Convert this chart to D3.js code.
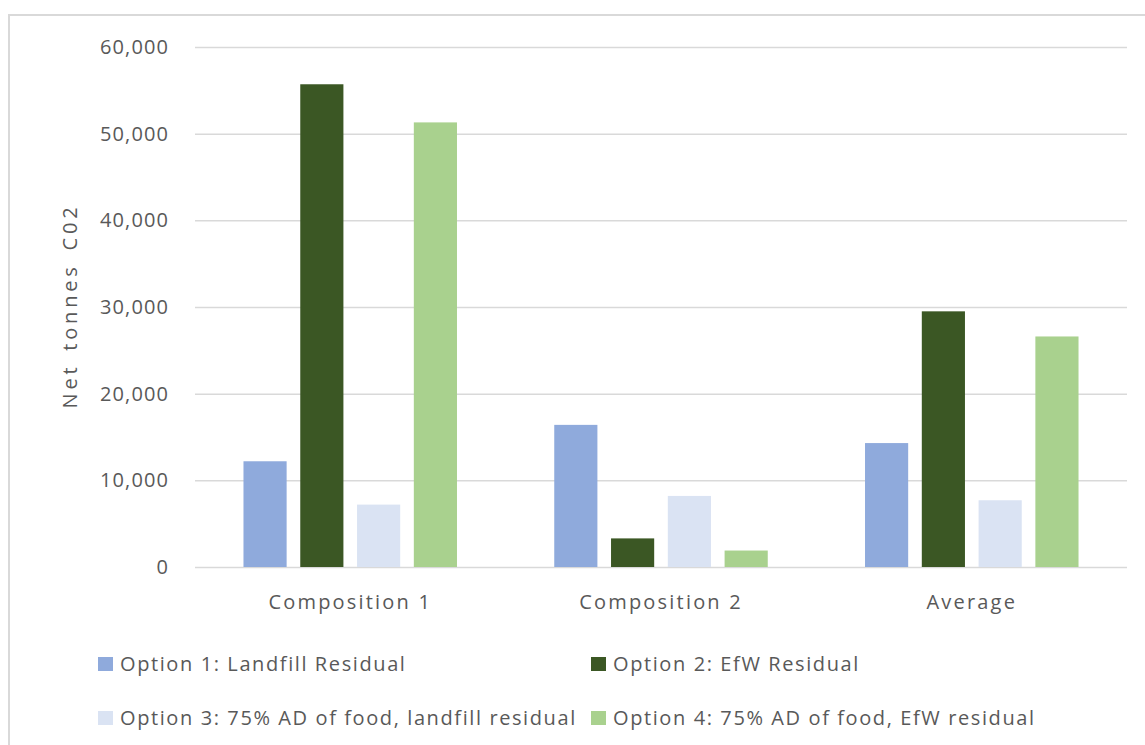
<!DOCTYPE html>
<html>
<head>
<meta charset="utf-8">
<script src="https://cdn.jsdelivr.net/npm/d3@7"></script>
<style>
  body { margin: 0; background: #fff; }
  svg text { font-family: "Open Sans", sans-serif; fill: #595959; }
</style>
</head>
<body>
<div id="chart"></div>
<script>
// categories and series
const categories = ["Composition 1", "Composition 2", "Average"];
const seriesNames = [
  "Option 1: Landfill Residual",
  "Option 2: EfW Residual",
  "Option 3: 75% AD of food, landfill residual",
  "Option 4: 75% AD of food, EfW residual"
];
const option1 = [12200, 16400, 14300];
const option2 = [55700, 3300, 29500];
const option3 = [7200, 8200, 7700];
const option4 = [51300, 1900, 26600];
const yTicks = [0, 10000, 20000, 30000, 40000, 50000, 60000];
const colors = ["#8faadc", "#3b5724", "#dae3f3", "#a9d18e"];

const seriesValues = [option1, option2, option3, option4];

const W = 1145, H = 745;
const margin = {top: 47, right: 18, bottom: 178, left: 195};
const width = W - margin.left - margin.right;
const height = H - margin.top - margin.bottom;

const svg = d3.select("#chart").append("svg")
  .attr("width", W).attr("height", H);

// outer chart border (only top and left are visible in the crop)
svg.append("rect")
  .attr("x", 9).attr("y", 15)
  .attr("width", W + 20).attr("height", H + 20)
  .attr("fill", "none").attr("stroke", "#d9d9d9").attr("stroke-width", 2);

const g = svg.append("g")
  .attr("transform", "translate(" + margin.left + "," + margin.top + ")");

const x0 = d3.scaleBand().domain(categories).range([0, width]).paddingInner(0.313).paddingOuter(0.156);
const x1 = d3.scaleBand().domain(d3.range(4)).range([0, x0.bandwidth()]).paddingInner(0.24);
const y = d3.scaleLinear().domain([0, 60000]).range([height, 0]);

// gridlines
g.append("g")
  .selectAll("line")
  .data(yTicks)
  .enter().append("line")
  .attr("x1", 0).attr("x2", width)
  .attr("y1", d => y(d) + 0.5).attr("y2", d => y(d) + 0.5)
  .attr("stroke", "#d9d9d9").attr("stroke-width", 1.5);

// y axis labels
const yAxis = g.append("g")
  .call(d3.axisLeft(y).tickValues(yTicks).tickFormat(d3.format(",")).tickSize(0).tickPadding(26));
yAxis.select(".domain").remove();
yAxis.selectAll("text")
  .style("font-size", "20px").style("letter-spacing", "1.1px")
  .attr("fill", "#595959");

// x axis labels
const xAxis = g.append("g")
  .attr("transform", "translate(0," + height + ")")
  .call(d3.axisBottom(x0).tickSize(0).tickPadding(28));
xAxis.select(".domain").remove();
xAxis.selectAll("text")
  .style("font-size", "20px").style("letter-spacing", "2.2px")
  .attr("fill", "#595959");

// bars
const groups = g.selectAll(".grp")
  .data(categories)
  .enter().append("g")
  .attr("transform", d => "translate(" + x0(d) + ",0)");

groups.selectAll("rect")
  .data((c, ci) => seriesValues.map((vals, si) => ({si: si, v: vals[ci]})))
  .enter().append("rect")
  .attr("x", d => x1(d.si))
  .attr("width", x1.bandwidth())
  .attr("y", d => y(d.v))
  .attr("height", d => height - y(d.v))
  .attr("fill", d => colors[d.si]);

// axis title
svg.append("text")
  .attr("transform", "translate(77,306) rotate(-90)")
  .attr("text-anchor", "middle")
  .style("font-size", "20px").style("letter-spacing", "3.8px").style("word-spacing", "4px")
  .text("Net tonnes C02");

// legend, two columns
const legendPos = [[98, 664], [591, 664], [98, 718], [591, 718]];
const legend = svg.selectAll(".leg")
  .data(seriesNames)
  .enter().append("g")
  .attr("transform", (d, i) => "translate(" + legendPos[i][0] + "," + legendPos[i][1] + ")");
legend.append("rect")
  .attr("x", 0).attr("y", -7).attr("width", 15).attr("height", 14)
  .attr("fill", (d, i) => colors[i]);
legend.append("text")
  .attr("x", 22).attr("y", 0).attr("dy", "0.35em")
  .style("font-size", "20px").style("letter-spacing", "1.6px")
  .text(d => d);
</script>
</body>
</html>
